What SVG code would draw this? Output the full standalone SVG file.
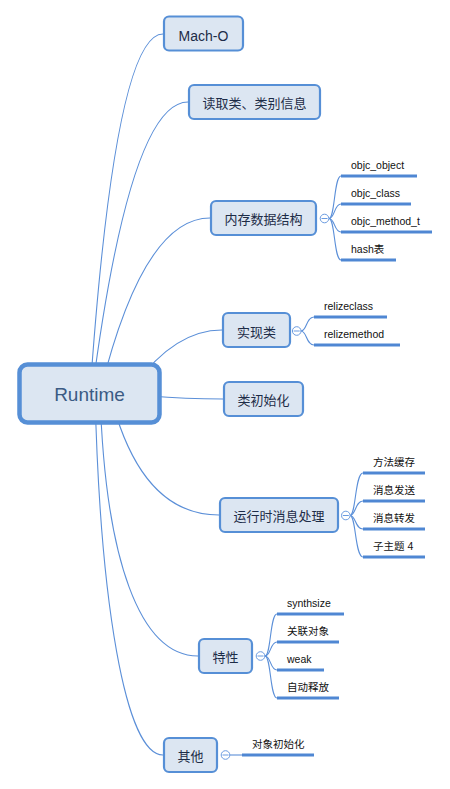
<svg xmlns="http://www.w3.org/2000/svg" width="450" height="789" viewBox="0 0 450 789">
<style>
.c{fill:none;stroke:#5b8fd8;stroke-width:1.1}
.box{fill:#dce6f2;stroke:#568fd6;stroke-width:2.2}
.root{fill:#dce6f2;stroke:#568fd6;stroke-width:4.5}
.t{font-family:"Liberation Sans","Noto Sans CJK SC",sans-serif;fill:#1d2c47;text-anchor:middle}
.tc{font-family:"Noto Sans CJK SC","Liberation Sans",sans-serif;font-size:13px;fill:#1d2c47;text-anchor:middle}
.lt{font-family:"Liberation Sans","Noto Sans CJK SC",sans-serif;font-size:10.5px;fill:#111}
.ul{stroke:#4f87d3;stroke-width:3;fill:none}
.col{fill:#fff;stroke:#6a9be0;stroke-width:1}
.mn{stroke:#6a9be0;stroke-width:1}
</style>
<g id="connectors">
<path class="c" d="M90,393 Q115,34 163,34"/>
<path class="c" d="M92,393 Q130,102 188,102"/>
<path class="c" d="M100,393 Q143,218 210,218"/>
<path class="c" d="M135,385 Q175,330 222,330"/>
<path class="c" d="M150,396 Q185,399 223,399"/>
<path class="c" d="M110,393 Q140,515 219,515"/>
<path class="c" d="M100,393 C105,560 140,656 198,656"/>
<path class="c" d="M95,393 C100,600 125,755 163,755"/>
<path class="c" d="M329,218.5 C335,218.5 334,176 341,176"/>
<path class="c" d="M329,218.5 C335,218.5 334,204 341,204"/>
<path class="c" d="M329,218.5 C335,218.5 334,232 341,232"/>
<path class="c" d="M329,218.5 C335,218.5 334,260 341,260"/>
<path class="c" d="M301,331 C307,331 306,317 314,317"/>
<path class="c" d="M301,331 C307,331 306,345 314,345"/>
<path class="c" d="M350,515.5 C356,515.5 355,473 363,473"/>
<path class="c" d="M350,515.5 C356,515.5 355,501 363,501"/>
<path class="c" d="M350,515.5 C356,515.5 355,529 363,529"/>
<path class="c" d="M350,515.5 C356,515.5 355,557 363,557"/>
<path class="c" d="M265,656 C271,656 270,614 277,614"/>
<path class="c" d="M265,656 C271,656 270,642 277,642"/>
<path class="c" d="M265,656 C271,656 270,670 277,670"/>
<path class="c" d="M265,656 C271,656 270,698 277,698"/>
<path class="c" d="M230,755 L242,755"/>
</g>
<g id="root">
<rect class="root" x="19.5" y="364.5" width="140" height="58" rx="8"/>
<text class="t" x="89.5" y="401" font-size="19" fill="#3b5b84" style="fill:#3b5b84">Runtime</text>
</g>
<g id="n-macho">
<rect class="box" x="164" y="16.5" width="79" height="34" rx="5"/>
<text class="t" x="203.5" y="40.5" font-size="14">Mach-O</text>
</g>
<g id="n-read">
<rect class="box" x="189" y="85" width="131" height="34" rx="5"/>
<text class="tc" x="254.5" y="107.5">读取类、类别信息</text>
</g>
<g id="n-mem">
<rect class="box" x="211" y="201" width="105" height="34" rx="5"/>
<text class="tc" x="263.5" y="224">内存数据结构</text>
<circle class="col" cx="324.5" cy="218.5" r="4.3"/>
<line class="mn" x1="321.5" y1="218.5" x2="327.5" y2="218.5"/>
</g>
<g id="l-objc-object"><line class="ul" x1="341" y1="176" x2="417" y2="176"/><text class="lt" x="351" y="168.5">objc_object</text></g>
<g id="l-objc-class"><line class="ul" x1="341" y1="204" x2="411" y2="204"/><text class="lt" x="351" y="196.5">objc_class</text></g>
<g id="l-objc-method"><line class="ul" x1="341" y1="232" x2="432" y2="232"/><text class="lt" x="351" y="224.5">objc_method_t</text></g>
<g id="l-hash"><line class="ul" x1="341" y1="260" x2="396" y2="260"/><text class="lt" x="351" y="252.5">hash表</text></g>
<g id="n-impl">
<rect class="box" x="223" y="313" width="67" height="34" rx="5"/>
<text class="tc" x="256.5" y="337">实现类</text>
<circle class="col" cx="296.7" cy="331" r="4.3"/>
<line class="mn" x1="293.7" y1="331" x2="299.7" y2="331"/>
</g>
<g id="l-relizeclass"><line class="ul" x1="314" y1="317" x2="387" y2="317"/><text class="lt" x="324" y="309.5">relizeclass</text></g>
<g id="l-relizemethod"><line class="ul" x1="314" y1="345" x2="400" y2="345"/><text class="lt" x="324" y="337.5">relizemethod</text></g>
<g id="n-init">
<rect class="box" x="224" y="382" width="79" height="34" rx="5"/>
<text class="tc" x="263.5" y="405">类初始化</text>
</g>
<g id="n-msg">
<rect class="box" x="220" y="498" width="118" height="34" rx="5"/>
<text class="tc" x="279" y="521">运行时消息处理</text>
<circle class="col" cx="345.8" cy="515.5" r="4.3"/>
<line class="mn" x1="342.8" y1="515.5" x2="348.8" y2="515.5"/>
</g>
<g id="l-cache"><line class="ul" x1="363" y1="473" x2="425" y2="473"/><text class="lt" x="373" y="465.5">方法缓存</text></g>
<g id="l-send"><line class="ul" x1="363" y1="501" x2="425" y2="501"/><text class="lt" x="373" y="493.5">消息发送</text></g>
<g id="l-forward"><line class="ul" x1="363" y1="529" x2="425" y2="529"/><text class="lt" x="373" y="521.5">消息转发</text></g>
<g id="l-sub4"><line class="ul" x1="363" y1="557" x2="425" y2="557"/><text class="lt" x="373" y="549.5">子主题 4</text></g>
<g id="n-prop">
<rect class="box" x="199" y="639" width="53" height="34" rx="5"/>
<text class="tc" x="225.5" y="662">特性</text>
<circle class="col" cx="260.5" cy="656" r="4.3"/>
<line class="mn" x1="257.5" y1="656" x2="263.5" y2="656"/>
</g>
<g id="l-synth"><line class="ul" x1="277" y1="614" x2="344" y2="614"/><text class="lt" x="287" y="606.5">synthsize</text></g>
<g id="l-assoc"><line class="ul" x1="277" y1="642" x2="339" y2="642"/><text class="lt" x="287" y="634.5">关联对象</text></g>
<g id="l-weak"><line class="ul" x1="277" y1="670" x2="324" y2="670"/><text class="lt" x="287" y="662.5">weak</text></g>
<g id="l-autorelease"><line class="ul" x1="277" y1="698" x2="339" y2="698"/><text class="lt" x="287" y="690.5">自动释放</text></g>
<g id="n-other">
<rect class="box" x="164" y="738" width="53" height="34" rx="5"/>
<text class="tc" x="190.5" y="761">其他</text>
<circle class="col" cx="225.5" cy="755" r="4.3"/>
<line class="mn" x1="222.5" y1="755" x2="228.5" y2="755"/>
</g>
<g id="l-objinit"><line class="ul" x1="242" y1="755" x2="314" y2="755"/><text class="lt" x="252" y="748">对象初始化</text></g>
</svg>
